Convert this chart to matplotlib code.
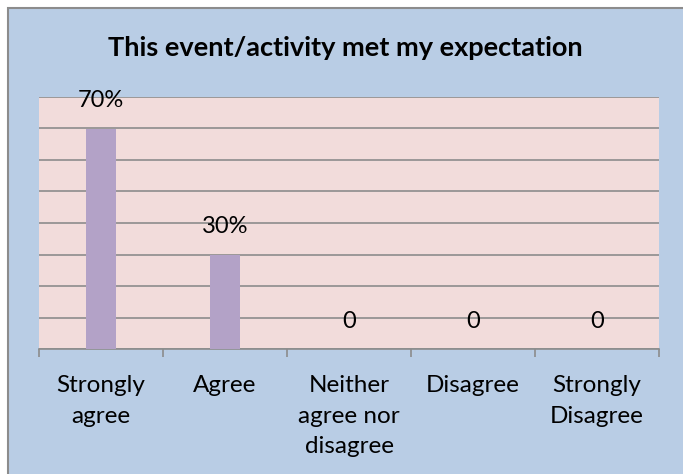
import matplotlib
matplotlib.use("Agg")
import matplotlib.pyplot as plt
from matplotlib.patches import Rectangle
from matplotlib.ticker import FixedLocator, MultipleLocator

categories = ["Strongly\nagree", "Agree", "Neither\nagree nor\ndisagree", "Disagree", "Strongly\nDisagree"]
values = [0.70, 0.30, 0.0, 0.0, 0.0]
labels = ["70%", "30%", "0", "0", "0"]
title = "This event/activity met my expectation"

W, H = 683, 474
fig = plt.figure(figsize=(W / 100, H / 100), dpi=100, facecolor="white")
plt.rcParams['font.family'] = ['Lato', 'DejaVu Sans']

bg = Rectangle((8 / W, -0.02), 1.0, (H - 8) / H + 0.02, transform=fig.transFigure,
               facecolor="#B9CDE5", edgecolor="#8C8C8C", linewidth=1.5, zorder=-10)
fig.patches.append(bg)

ax = fig.add_axes([39 / W, (H - 349) / H, (659 - 39) / W, (349 - 97) / H])
ax.set_zorder(5)
ax.set_facecolor("#F2DCDB")
x = list(range(len(categories)))
ax.bar(x, values, width=0.24, color="#B3A2C7", zorder=3)
ax.set_xlim(-0.5, len(categories) - 0.5)
ax.set_ylim(0, 0.8)
ax.yaxis.set_major_locator(MultipleLocator(0.1))
ax.grid(axis="y", color="#8C8C8C", linewidth=1.2, zorder=1)
ax.set_axisbelow(True)
ax.tick_params(axis="y", left=False, labelleft=False)
for s in ["left", "right", "top"]:
    ax.spines[s].set_visible(False)
ax.spines["bottom"].set_color("#8C8C8C")
ax.spines["bottom"].set_linewidth(1.2)

ax.set_xticks(x)
ax.set_xticklabels(categories, fontsize=17.5, linespacing=1.55)
ax.tick_params(axis="x", which="major", length=0, pad=19)
ax.xaxis.set_minor_locator(FixedLocator([i - 0.5 for i in range(len(categories) + 1)]))
ax.tick_params(axis="x", which="minor", length=6, color="#8C8C8C", width=1.2, direction="out")

for xi, v, lab in zip(x, values, labels):
    ax.annotate(lab, (xi, v), xytext=(0, 20), textcoords="offset points",
                ha="center", va="center", fontsize=17, color="black")

fig.text(0.5 + 4 / W, (H - 48) / H, title, ha="center", va="center",
         fontsize=19.5, fontweight="bold", color="black")

fig.savefig("out.png", dpi=100, facecolor=fig.get_facecolor())
